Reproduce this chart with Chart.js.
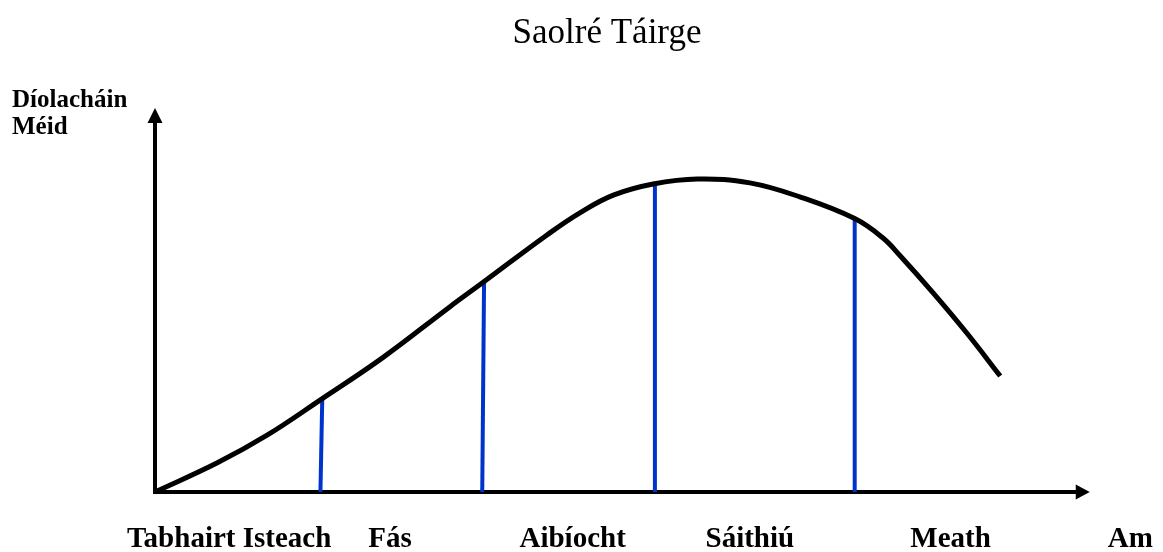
<!DOCTYPE html>
<html>
<head>
<meta charset="utf-8">
<script src="https://cdn.jsdelivr.net/npm/chart.js@4.4.1/dist/chart.umd.min.js"></script>
<style>
  html, body { margin: 0; padding: 0; background: #fff; }
</style>
</head>
<body>
<canvas id="myChart" width="1163" height="552"></canvas>
<script>
// stage names along the time axis and where they sit (time units)
const stageNames = ["Tabhairt Isteach", "Fás", "Aibíocht", "Sáithiú", "Meath", "Am"];
const stageLabelX = [8.2, 26.0, 46.2, 65.8, 88.0, 107.9];

// sales curve (time 0-100, sales 0-100)
const curveX = [0, 6.9, 12.4, 18.3, 25.2, 32.6, 36.3, 43.4, 47.0, 50.7, 55.1, 60.0, 65.8, 71.4, 77.4, 80.5, 82.4, 86.1, 89.8, 93.5];
const curveY = [0, 7.6, 14.8, 24.0, 35.0, 48.2, 54.6, 67.0, 72.7, 77.3, 80.2, 81.5, 80.5, 76.8, 71.2, 66.2, 61.6, 51.8, 41.4, 30.2];

// blue stage dividers
const dividerTopX = [18.5, 36.4, 55.3, 77.4];
const dividerBottomX = [18.3, 36.2, 55.3, 77.4];
const dividerTopY = [24.0, 54.6, 79.9, 71.1];

const yAxisTitle = ["Díolacháin", "Méid"];

const serif = "'Liberation Serif', 'Times New Roman', serif";

const datasets = [
  {
    data: curveX.map((x, i) => ({ x: x, y: curveY[i] })),
    borderColor: "#000000",
    borderWidth: 5,
    pointRadius: 0,
    tension: 0.4,
    clip: false,
  },
];
dividerTopX.forEach((x, i) => {
  datasets.push({
    data: [
      { x: dividerBottomX[i], y: 0 },
      { x: x, y: dividerTopY[i] },
    ],
    borderColor: "#0033CC",
    borderWidth: 4,
    pointRadius: 0,
    tension: 0,
    clip: false,
  });
});

// axis lines with arrow heads, plus the horizontal y axis caption
const axesPlugin = {
  id: "axesPlugin",
  beforeDatasetsDraw(chart) {
    const { ctx } = chart;
    const x = chart.scales.x;
    const y = chart.scales.y;
    const x0 = x.getPixelForValue(0);
    const y0 = y.getPixelForValue(0);
    const xEnd = x.getPixelForValue(103.4);
    const yEnd = y.getPixelForValue(100);
    ctx.save();
    ctx.strokeStyle = "#000";
    ctx.fillStyle = "#000";
    ctx.lineWidth = 4;
    ctx.beginPath();
    ctx.moveTo(x0 - 2, y0);
    ctx.lineTo(xEnd - 12, y0);
    ctx.moveTo(x0, y0 + 2);
    ctx.lineTo(x0, yEnd + 12);
    ctx.stroke();
    ctx.beginPath();
    ctx.moveTo(xEnd, y0);
    ctx.lineTo(xEnd - 14, y0 - 7.5);
    ctx.lineTo(xEnd - 14, y0 + 7.5);
    ctx.closePath();
    ctx.fill();
    ctx.beginPath();
    ctx.moveTo(x0, yEnd);
    ctx.lineTo(x0 - 7.5, yEnd + 15);
    ctx.lineTo(x0 + 7.5, yEnd + 15);
    ctx.closePath();
    ctx.fill();
    ctx.font = "bold 25px " + serif;
    ctx.textAlign = "left";
    ctx.textBaseline = "alphabetic";
    ctx.fillText(yAxisTitle[0], 12, 107);
    ctx.fillText(yAxisTitle[1], 12, 134);
    ctx.restore();
  },
};

new Chart("myChart", {
  type: "line",
  data: { datasets: datasets },
  plugins: [axesPlugin],
  options: {
    responsive: false,
    animation: false,
    layout: {
      padding: { left: 155, right: 104, top: 0, bottom: 0 },
    },
    plugins: {
      legend: { display: false },
      tooltip: { enabled: false },
      title: {
        display: true,
        text: "Saolré Táirge",
        color: "#000",
        font: { family: serif, size: 35, weight: "normal" },
        padding: { top: 13, bottom: 53 },
      },
    },
    scales: {
      x: {
        type: "linear",
        min: 0,
        max: 100,
        grid: { display: false, drawTicks: false },
        border: { display: false },
        afterBuildTicks: (scale) => {
          scale.ticks = stageLabelX.map((v) => ({ value: v }));
        },
        afterFit: (scale) => {
          scale.paddingLeft = 0;
          scale.paddingRight = 0;
          scale.height = 60;
        },
        ticks: {
          autoSkip: false,
          maxRotation: 0,
          padding: 33,
          color: "#000",
          font: { family: serif, size: 29, weight: "bold", lineHeight: 1 },
          callback: (value, index) => stageNames[index],
        },
      },
      y: {
        display: false,
        min: 0,
        max: 100,
      },
    },
  },
});
</script>
</body>
</html>
